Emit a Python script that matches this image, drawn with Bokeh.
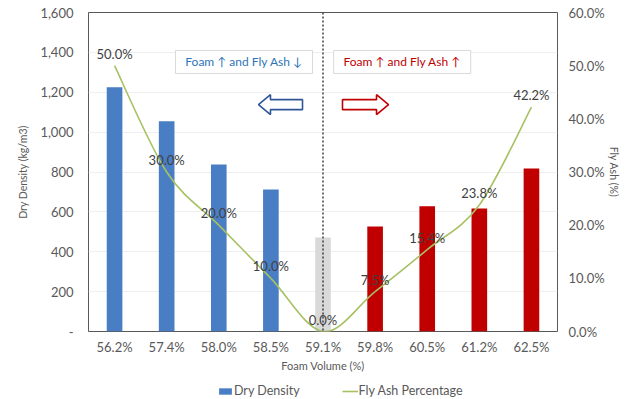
from bokeh.plotting import figure
from bokeh.layouts import column
from bokeh.models import (ColumnDataSource, Range1d, FactorRange, LinearAxis, FixedTicker,
                          CustomJSTickFormatter, Span, LabelSet, Legend, LegendItem)
from bokeh.core.properties import value
from bokeh.embed import file_html
from bokeh.resources import INLINE

# ---- data ----
foam_volume = ["56.2%", "57.4%", "58.0%", "58.5%", "59.1%", "59.8%", "60.5%", "61.2%", "62.5%"]
dry_density = [1225, 1055, 837, 712, 471, 527, 628, 617, 817]
fly_ash_pct = [50.0, 30.0, 20.0, 10.0, 0.0, 7.5, 15.4, 23.8, 42.2]
bar_colors = ["#4A7EC4"] * 4 + ["#D9D9D9"] + ["#C00000"] * 4

FONT = "Lato"
GREY = "#595959"
LINE_GREEN = "#A7C163"
BLUE = "#4A7EC4"

p = figure(width=628, height=374, output_backend="svg", toolbar_location=None,
           x_range=FactorRange(*foam_volume), y_range=Range1d(0, 1600),
           min_border_left=88, min_border_right=71, min_border_top=12, min_border_bottom=43)
p.extra_y_ranges = {"pct": Range1d(0, 60)}
p.outline_line_color = GREY
p.outline_line_width = 1
p.background_fill_color = "white"
p.border_fill_color = "white"

# ---- axes ----
def style_axis(ax):
    ax.axis_line_color = None
    ax.major_tick_line_color = None
    ax.minor_tick_line_color = None
    ax.major_tick_out = 0
    ax.major_tick_in = 0
    ax.major_label_text_font = FONT
    ax.major_label_text_font_size = "13px"
    ax.major_label_text_color = GREY
    ax.axis_label_text_font = FONT
    ax.axis_label_text_font_style = "normal"
    ax.axis_label_text_color = GREY

xa = p.xaxis[0]
style_axis(xa)
xa.axis_label = "Foam Volume (%)"
xa.axis_label_text_font_size = "11px"
xa.major_label_standoff = 7
xa.axis_label_standoff = 1

ya = p.yaxis[0]
style_axis(ya)
ya.axis_label = "Dry Density (kg/m3)"
ya.axis_label_text_font_size = "10.5px"
ya.ticker = FixedTicker(ticks=list(range(0, 1601, 200)))
ya.formatter = CustomJSTickFormatter(code="return tick == 0 ? '-' : tick.toLocaleString('en-US');")
ya.major_label_standoff = 15
ya.axis_label_standoff = 8

ra = LinearAxis(y_range_name="pct", axis_label="Fly Ash (%)")
style_axis(ra)
ra.axis_label_text_font_size = "10.5px"
ra.ticker = FixedTicker(ticks=list(range(0, 61, 10)))
ra.formatter = CustomJSTickFormatter(code="return tick.toFixed(1) + '%';")
ra.major_label_standoff = 11
ra.axis_label_standoff = 0
p.add_layout(ra, "right")

p.xgrid.grid_line_color = None
p.ygrid.grid_line_color = "#EFEFEF"
p.ygrid.ticker = FixedTicker(ticks=list(range(200, 1601, 200)))

# ---- bars ----
src = ColumnDataSource(dict(x=foam_volume, y=dry_density, c=bar_colors, pct=fly_ash_pct,
                            lbl=[f"{v:.1f}%" for v in fly_ash_pct]))
p.vbar(x="x", top="y", width=0.3, fill_color="c", line_color=None, source=src)

# divider between the two regimes
p.add_layout(Span(location=4.5, dimension="height", line_color="#222222",
                  line_dash="2 2", line_width=1.3))

# ---- fly ash line (smoothed with cubic Bezier segments) ----
xs = [i + 0.5 for i in range(len(fly_ash_pct))]
ys = fly_ash_pct
n = len(xs)
x0, y0, x1, y1, cx0, cy0, cx1, cy1 = [], [], [], [], [], [], [], []
for i in range(n - 1):
    ip = max(i - 1, 0)
    inn = min(i + 2, n - 1)
    x0.append(xs[i]); y0.append(ys[i])
    x1.append(xs[i + 1]); y1.append(ys[i + 1])
    cx0.append(xs[i] + (xs[i + 1] - xs[ip]) / 6)
    cy0.append(ys[i] + (ys[i + 1] - ys[ip]) / 6)
    cx1.append(xs[i + 1] - (xs[inn] - xs[i]) / 6)
    cy1.append(ys[i + 1] - (ys[inn] - ys[i]) / 6)
p.bezier(x0=x0, y0=y0, x1=x1, y1=y1, cx0=cx0, cy0=cy0, cx1=cx1, cy1=cy1,
         line_color=LINE_GREEN, line_width=1.6, y_range_name="pct")

p.add_layout(LabelSet(x="x", y="pct", text="lbl", source=src, y_range_name="pct",
                      text_align="center", text_baseline="middle", y_offset=12,
                      text_font=value(FONT), text_font_size="13px", text_color="#404040"))

# ---- annotation boxes ----
p.rect(x=[2.984, 6.02], y=[1352, 1352], width=137, height=23,
       width_units="screen", height_units="screen",
       fill_color="white", line_color="#D9D9D9", line_width=1)
p.text(x=[2.984, 6.02], y=[1352, 1352],
       text=["Foam \u2191 and Fly Ash \u2193", "Foam \u2191 and Fly Ash \u2191"],
       text_color=["#2E75B6", "#C00000"], text_align="center", text_baseline="middle",
       text_font=value(FONT), text_font_size="12px")

# ---- block arrows ----
def block_arrow(x_tail, x_tip, yc, head=0.23, hh=50, sh=25):
    d = 1 if x_tip > x_tail else -1
    xb = x_tip - d * head
    return ([x_tip, xb, xb, x_tail, x_tail, xb, xb],
            [yc, yc + hh, yc + sh, yc + sh, yc - sh, yc - sh, yc - hh])

ax_, ay_ = block_arrow(4.107, 3.262, 1138)
p.patch(ax_, ay_, fill_color="white", line_color="#2F5597", line_width=1.6)
bx_, by_ = block_arrow(4.874, 5.757, 1138)
p.patch(bx_, by_, fill_color="white", line_color="#C00000", line_width=1.6)

# ---- legend strip under the chart ----
lg = figure(width=628, height=25, output_backend="svg", toolbar_location=None,
            x_range=Range1d(0, 1), y_range=Range1d(0, 1),
            min_border=0, x_axis_type=None, y_axis_type=None)
lg.outline_line_color = None
lg.grid.grid_line_color = None
# keys only: their data sit outside the visible range
leg_bar = lg.vbar(x=[-5], top=[-5], width=0.3, fill_color=BLUE, line_color=None)
leg_line = lg.line(x=[-5, -4], y=[-5, -5], line_color=LINE_GREEN, line_width=1.6)
legend = Legend(items=[LegendItem(label="Dry Density", renderers=[leg_bar]),
                       LegendItem(label="Fly Ash Percentage", renderers=[leg_line])],
                orientation="horizontal", location=(129, 1),
                glyph_width=16, glyph_height=8, label_height=12, label_standoff=1, spacing=42,
                padding=0, margin=0, border_line_color=None, background_fill_alpha=0,
                label_text_font=FONT, label_text_font_size="12.5px", label_text_color=GREY)
lg.add_layout(legend, "center")

layout = column(p, lg, spacing=0)
open("out.html", "w").write(file_html(layout, INLINE))
